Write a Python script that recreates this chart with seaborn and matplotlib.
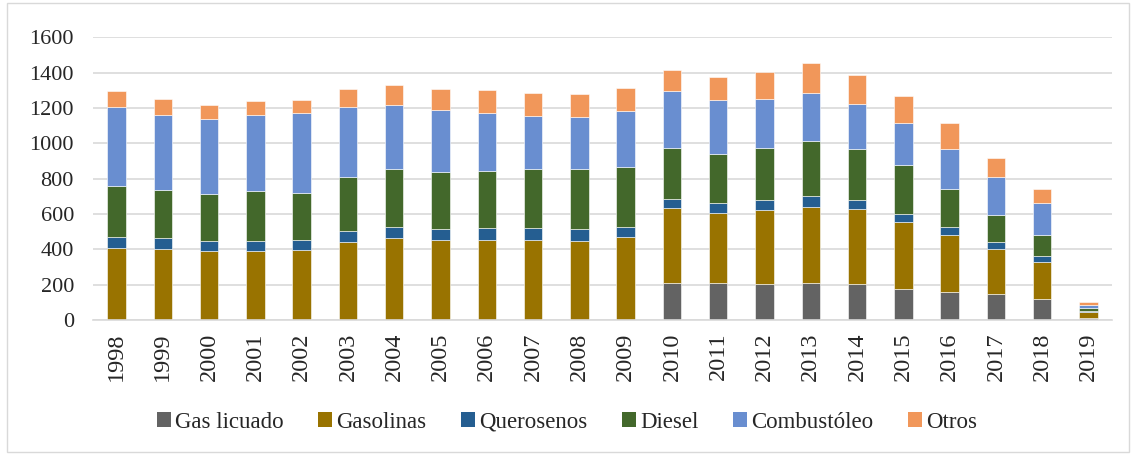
import numpy as np
import pandas as pd
import seaborn as sns
import matplotlib.pyplot as plt
from matplotlib.patches import Rectangle, Patch

years = [str(y) for y in range(1998, 2020)]

gas_licuado = [0, 0, 0, 0, 0, 0, 0, 0, 0, 0, 0, 0,
               211, 207, 203, 207, 203, 173, 158, 145, 120, 10]
gasolinas = [410, 404, 393, 389, 397, 444, 466, 453, 455, 453, 449, 470,
             634, 607, 620, 641, 626, 555, 483, 400, 329, 43]
querosenos = [470, 462, 449, 446, 453, 504, 528, 517, 521, 521, 515, 528,
              686, 664, 677, 701, 679, 602, 528, 442, 363, 49]
diesel = [758, 735, 712, 728, 718, 810, 852, 837, 846, 852, 857, 865,
          976, 938, 976, 1015, 966, 876, 741, 594, 479, 66]
combustoleo = [1203, 1162, 1135, 1162, 1169, 1207, 1218, 1186, 1171, 1156, 1147, 1181,
               1297, 1245, 1248, 1282, 1224, 1113, 968, 810, 662, 86]
otros = [1297, 1250, 1218, 1237, 1245, 1308, 1331, 1307, 1303, 1284, 1280, 1314,
         1414, 1376, 1402, 1455, 1384, 1265, 1117, 914, 739, 105]

# cumulative tops -> segment heights
series_names = ["Gas licuado", "Gasolinas", "Querosenos", "Diesel", "Combustóleo", "Otros"]
tops = [gas_licuado, gasolinas, querosenos, diesel, combustoleo, otros]
colors = ["#636363", "#997300", "#255E91", "#43682B", "#698ED0", "#F1975A"]

sns.set_style("white")
plt.rcParams['font.family'] = ['Liberation Serif', 'DejaVu Serif']

fig = plt.figure(figsize=(11.34, 4.54), dpi=100)
ax = fig.add_axes([0.0823, 0.295, 0.898, 0.623])

bottom = np.zeros(len(years))
for name, top, col in zip(series_names, tops, colors):
    h = np.array(top) - bottom
    df = pd.DataFrame({"year": years, "value": h})
    sns.barplot(data=df, x="year", y="value", order=years, color=col,
                width=0.4, bottom=bottom, edgecolor="white", linewidth=0.4,
                saturation=1, ax=ax)
    bottom = np.array(top, dtype=float)

ax.set_ylim(0, 1600)
ax.set_xlim(-0.5, len(years) - 0.5)
ax.set_yticks(range(0, 1601, 200))
ax.yaxis.grid(True, color="#d9d9d9", linewidth=1.2)
ax.set_axisbelow(True)
for s in ["top", "right", "left"]:
    ax.spines[s].set_visible(False)
ax.spines["bottom"].set_color("#d9d9d9")
ax.spines["bottom"].set_linewidth(1.2)
ax.set_xlabel("")
ax.set_ylabel("")
ax.tick_params(axis="y", length=0, pad=14, labelsize=16)
ax.tick_params(axis="x", length=0, pad=9, labelsize=17.5, labelrotation=90)

handles = [Patch(facecolor=c, edgecolor="none") for c in colors]
fig.legend(handles, series_names, loc="center", bbox_to_anchor=(0.5, 0.07),
           ncol=6, frameon=False, fontsize=16.5, handlelength=0.6, handleheight=0.6,
           handletextpad=0.2, columnspacing=1.5)

fig.patches.append(Rectangle((0.006, 0.004), 0.99, 0.99, transform=fig.transFigure,
                             fill=False, edgecolor="#d9d9d9", linewidth=1))

fig.savefig("out.png", dpi=100)
